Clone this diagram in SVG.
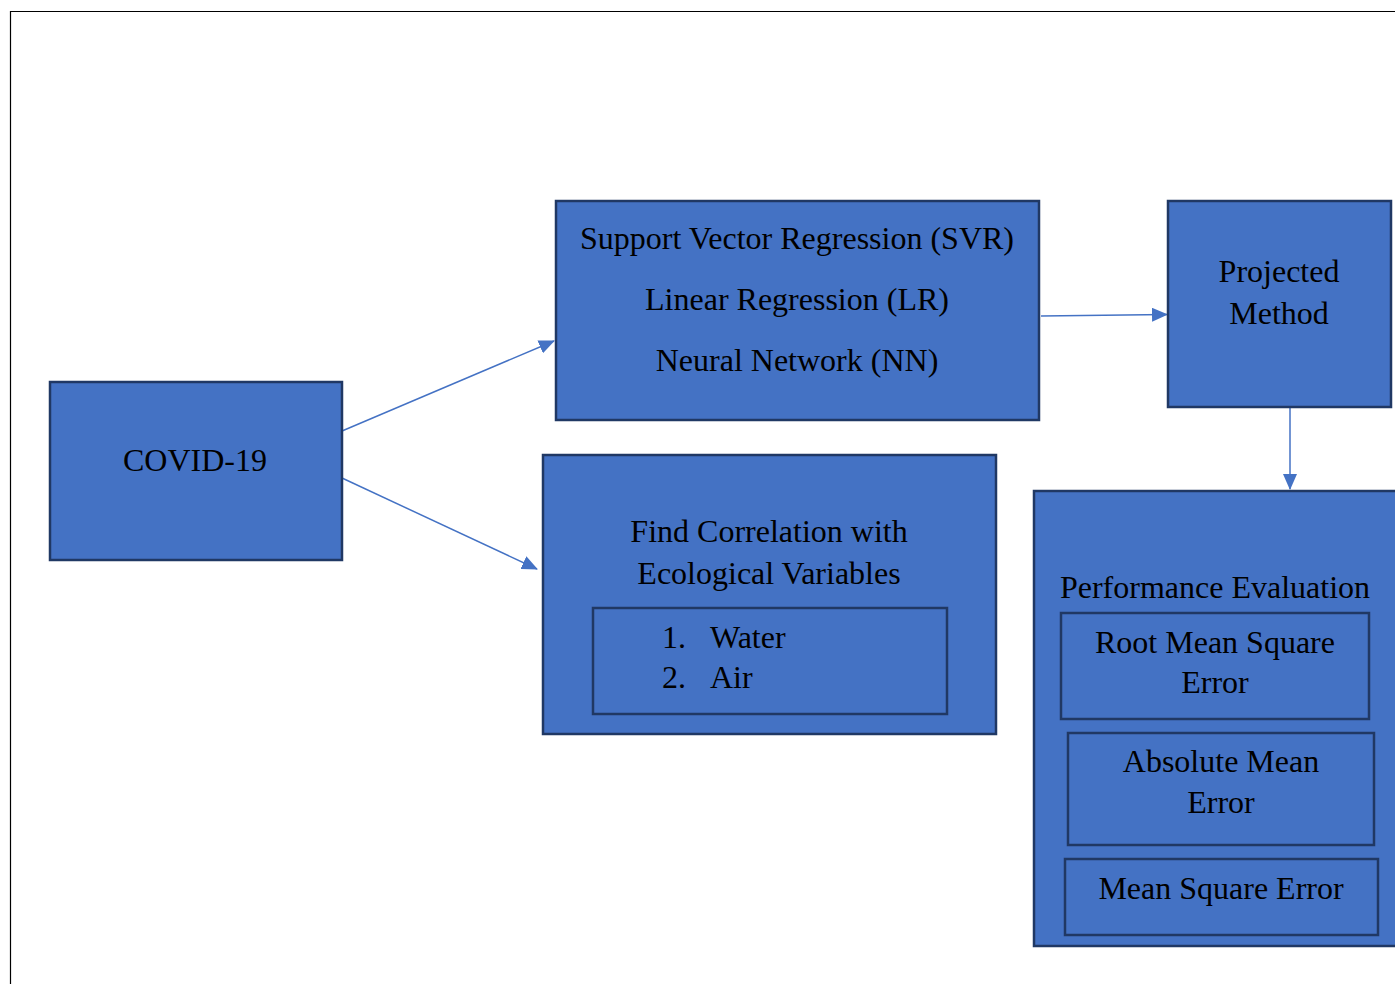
<svg xmlns="http://www.w3.org/2000/svg" width="1395" height="985" viewBox="0 0 1395 985">
<style>
.box{fill:#4472C4;stroke:#203864;stroke-width:2.5}
.inner{fill:none;stroke:#203864;stroke-width:2.5}
.t{font-family:"Liberation Serif","Times New Roman",serif;font-size:32px;fill:#000;text-anchor:middle}
.tl{font-family:"Liberation Serif","Times New Roman",serif;font-size:32px;fill:#000}
.c{stroke:#4472C4;stroke-width:1.5;fill:none;marker-end:url(#ah)}
</style>
<defs>
<marker id="ah" markerWidth="16" markerHeight="14" refX="15" refY="7" orient="auto" markerUnits="userSpaceOnUse" viewBox="0 0 16 14">
<path d="M0,0 L16,7 L0,14 z" fill="#4472C4"/>
</marker>
</defs>
<rect width="1395" height="985" fill="#fff"/>
<path d="M10.5,984 V11.5 H1395" fill="none" stroke="#000" stroke-width="1.2"/>
<g id="connectors">
<line class="c" x1="342" y1="431" x2="554" y2="341"/>
<line class="c" x1="342" y1="478" x2="537" y2="569"/>
<line class="c" x1="1041" y1="316" x2="1167" y2="314.5"/>
<line class="c" x1="1290" y1="408" x2="1290" y2="489"/>
</g>
<g id="covid">
<rect class="box" x="50" y="382" width="292" height="178"/>
<text class="t" x="195" y="471">COVID-19</text>
</g>
<g id="models">
<rect class="box" x="556" y="201" width="483" height="219"/>
<text class="t" x="797" y="249">Support Vector Regression (SVR)</text>
<text class="t" x="797" y="310">Linear Regression (LR)</text>
<text class="t" x="797" y="371">Neural Network (NN)</text>
</g>
<g id="projected">
<rect class="box" x="1168" y="201" width="223" height="206"/>
<text class="t" x="1279" y="282">Projected</text>
<text class="t" x="1279" y="324">Method</text>
</g>
<g id="correlation">
<rect class="box" x="543" y="455" width="453" height="279"/>
<text class="t" x="769" y="542">Find Correlation with</text>
<text class="t" x="769" y="584">Ecological Variables</text>
<rect class="inner" x="593" y="608" width="354" height="106"/>
<text class="tl" x="662" y="648">1.</text>
<text class="tl" x="710" y="648">Water</text>
<text class="tl" x="662" y="688">2.</text>
<text class="tl" x="710" y="688">Air</text>
</g>
<g id="performance">
<rect class="box" x="1034" y="491" width="370" height="455"/>
<text class="t" x="1215" y="598">Performance Evaluation</text>
<rect class="inner" x="1061" y="613" width="308" height="106"/>
<text class="t" x="1215" y="653">Root Mean Square</text>
<text class="t" x="1215" y="693">Error</text>
<rect class="inner" x="1068" y="733" width="306" height="112"/>
<text class="t" x="1221" y="772">Absolute Mean</text>
<text class="t" x="1221" y="813">Error</text>
<rect class="inner" x="1065" y="859" width="313" height="76"/>
<text class="t" x="1221" y="899">Mean Square Error</text>
</g>
</svg>
